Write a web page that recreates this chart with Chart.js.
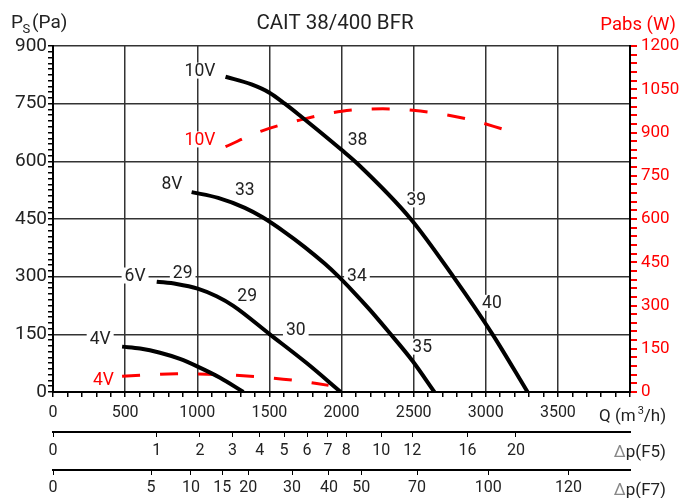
<!DOCTYPE html>
<html>
<head>
<meta charset="utf-8">
<script src="https://cdn.jsdelivr.net/npm/chart.js@4.4.1/dist/chart.umd.min.js"></script>
<style>
html, body { margin: 0; padding: 0; background: #fff; }
canvas { display: block; }
</style>
</head>
<body>
<canvas id="fanChart" width="681" height="498"></canvas>
<script>
// static pressure curves: Q in m3/h, Ps in Pa
const q10V = [1196, 1376, 1503, 1607, 1722, 1837, 2000, 2113, 2480, 2775, 3047, 3290];
const ps10V = [820, 800, 778, 750, 716, 681, 630, 593, 450, 300, 150, 0];
const q8V = [961, 1145, 1330, 1450, 1606, 1745, 1883, 1975, 2079, 2194, 2328, 2494, 2644];
const ps8V = [520, 505, 479, 455, 416, 377, 334, 302, 262, 215, 156, 80, 0];
const q6V = [719, 857, 1003, 1134, 1250, 1503, 1756, 1995];
const ps6V = [287, 281, 269, 249, 224, 150, 76, 0];
const q4V = [479, 604, 742, 880, 1003, 1158, 1320];
const ps4V = [118, 113, 102, 86, 66, 37, 0];

// absorbed power curves: Q in m3/h, Pabs in W
const qPow10V = [1196, 1445, 1710, 2003, 2287, 2494, 2863, 3151];
const pow10V = [851, 905, 943, 974, 982, 977, 948, 907];
const qPow4V = [479, 857, 1134, 1411, 1664, 1910];
const pow4V = [55, 63, 61, 53, 41, 23];

// filter pressure drop scales, Q where each value sits
const f5Values = [0, 1, 2, 3, 4, 5, 6, 7, 8, 10, 12, 16, 20];
const f5Q = [0, 719, 1019, 1245, 1434, 1602, 1761, 1906, 2033, 2275, 2490, 2874, 3209];
const f7Values = [0, 5, 10, 15, 20, 30, 40, 50, 70, 100, 120];
const f7Q = [0, 680, 956, 1173, 1353, 1657, 1913, 2137, 2524, 3017, 3573];

const RED = '#ff0000';
const TEXT = '#222';
const GRID = '#333';
const FONT = 'Roboto, "Noto Sans", sans-serif';

function toPoints(xs, ys) {
    return xs.map((x, i) => ({ x: x, y: ys[i] }));
}

// labels placed on the curves, in data units
const curveLabels = [
    { text: '10V', q: 1019, v: 836, axis: 'y', color: TEXT },
    { text: '10V', q: 1019, v: 876, axis: 'y2', color: RED },
    { text: '8V', q: 825, v: 542, axis: 'y', color: TEXT },
    { text: '33', q: 1330, v: 527, axis: 'y', color: TEXT },
    { text: '38', q: 2111, v: 657, axis: 'y', color: TEXT },
    { text: '39', q: 2519, v: 501, axis: 'y', color: TEXT },
    { text: '6V', q: 569, v: 303, axis: 'y', color: TEXT },
    { text: '29', q: 899, v: 310, axis: 'y', color: TEXT },
    { text: '29', q: 1346, v: 251, axis: 'y', color: TEXT },
    { text: '30', q: 1683, v: 161, axis: 'y', color: TEXT },
    { text: '34', q: 2107, v: 303, axis: 'y', color: TEXT },
    { text: '35', q: 2559, v: 118, axis: 'y', color: TEXT },
    { text: '40', q: 3043, v: 232, axis: 'y', color: TEXT },
    { text: '4V', q: 327, v: 138, axis: 'y', color: TEXT },
    { text: '4V', q: 350, v: 43, axis: 'y2', color: RED }
];

const textPlugin = {
    id: 'chartText',
    beforeDatasetsDraw(chart) {
        const { ctx, scales } = chart;
        ctx.save();
        ctx.font = '17.5px ' + FONT;
        ctx.textAlign = 'center';
        ctx.textBaseline = 'middle';
        curveLabels.forEach(l => {
            const x = scales.x.getPixelForValue(l.q);
            const y = scales[l.axis].getPixelForValue(l.v);
            const w = ctx.measureText(l.text).width + 6;
            ctx.fillStyle = '#fff';
            ctx.fillRect(x - w / 2, y - 8, w, 16);
            ctx.fillStyle = l.color;
            ctx.fillText(l.text, x, y + 1);
        });
        ctx.restore();
    },
    afterDraw(chart) {
        const ctx = chart.ctx;
        ctx.save();
        ctx.textBaseline = 'alphabetic';

        ctx.fillStyle = TEXT;
        ctx.font = '20.5px ' + FONT;
        ctx.textAlign = 'center';
        ctx.fillText('CAIT 38/400 BFR', 335, 29);

        ctx.textAlign = 'left';
        ctx.font = '19px ' + FONT;
        ctx.fillText('P', 11, 28);
        ctx.font = '13px ' + FONT;
        ctx.fillText('S', 22.5, 33);
        ctx.font = '19px ' + FONT;
        ctx.fillText('(Pa)', 32, 28);

        ctx.fillStyle = RED;
        ctx.textAlign = 'right';
        ctx.font = '18.5px ' + FONT;
        ctx.fillText('Pabs (W)', 676, 30);

        // Q (m3/h)
        ctx.fillStyle = TEXT;
        ctx.textAlign = 'left';
        ctx.font = '17px ' + FONT;
        let x = 599;
        ctx.fillText('Q (m', x, 421);
        x += ctx.measureText('Q (m').width + 2;
        ctx.font = '11px ' + FONT;
        ctx.fillText('3', x, 414);
        x += ctx.measureText('3').width;
        ctx.font = '17px ' + FONT;
        ctx.fillText('/h)', x, 421);

        // filter axis names
        [['(F5)', 457], ['(F7)', 495]].forEach(([name, y]) => {
            ctx.font = '17px ' + FONT;
            ctx.fillStyle = TEXT;
            ctx.textAlign = 'right';
            ctx.fillText('p' + name, 666, y);
            const w = ctx.measureText('p' + name).width;
            ctx.fillStyle = '#888';
            ctx.fillText('\u0394', 666 - w, y);
        });
        ctx.restore();
    }
};

function fixWidth(w) {
    return scale => { scale.width = w; };
}
function fixHeight(h) {
    return scale => { scale.height = h; };
}

const ctx = document.getElementById('fanChart').getContext('2d');

new Chart(ctx, {
    type: 'line',
    data: {
        datasets: [
            { data: toPoints(q10V, ps10V), yAxisID: 'y', borderColor: '#000', borderWidth: 4 },
            { data: toPoints(q8V, ps8V), yAxisID: 'y', borderColor: '#000', borderWidth: 4 },
            { data: toPoints(q6V, ps6V), yAxisID: 'y', borderColor: '#000', borderWidth: 4 },
            { data: toPoints(q4V, ps4V), yAxisID: 'y', borderColor: '#000', borderWidth: 4 },
            { data: toPoints(qPow10V, pow10V), yAxisID: 'y2', borderColor: RED, borderWidth: 3, borderDash: [18, 20] },
            { data: toPoints(qPow4V, pow4V), yAxisID: 'y2', borderColor: RED, borderWidth: 3, borderDash: [18, 20] }
        ]
    },
    options: {
        responsive: false,
        animation: false,
        events: [],
        elements: {
            point: { radius: 0 },
            line: { cubicInterpolationMode: 'monotone', fill: false }
        },
        layout: { padding: { top: 46, left: 0, right: 0, bottom: 0 } },
        plugins: {
            legend: { display: false },
            tooltip: { enabled: false }
        },
        scales: {
            x: {
                type: 'linear',
                position: 'bottom',
                weight: 0,
                min: 0,
                max: 4000,
                afterFit: fixHeight(40),
                border: { color: '#000', width: 2 },
                grid: {
                    color: c => (c.tick && c.tick.value % 500 === 0) ? GRID : 'rgba(0,0,0,0)',
                    tickColor: '#000',
                    lineWidth: 1.5,
                    tickLength: 5
                },
                ticks: {
                    stepSize: 100,
                    autoSkip: false,
                    maxRotation: 0,
                    padding: 6,
                    color: TEXT,
                    font: { family: FONT, size: 16 },
                    callback: v => (v % 500 === 0 && v < 4000) ? v : ''
                }
            },
            x2: {
                type: 'linear',
                position: 'bottom',
                weight: 1,
                min: 0,
                max: 4000,
                afterFit: fixHeight(38),
                afterBuildTicks: scale => { scale.ticks = f5Q.map(v => ({ value: v })); },
                border: { color: '#000', width: 2 },
                grid: { drawOnChartArea: false, tickColor: '#000', tickLength: 5 },
                ticks: {
                    autoSkip: false,
                    maxRotation: 0,
                    padding: 4,
                    color: TEXT,
                    font: { family: FONT, size: 16 },
                    callback: (v, i) => f5Values[i]
                }
            },
            x3: {
                type: 'linear',
                position: 'bottom',
                weight: 2,
                min: 0,
                max: 4000,
                afterFit: fixHeight(28),
                afterBuildTicks: scale => { scale.ticks = f7Q.map(v => ({ value: v })); },
                border: { color: '#000', width: 2 },
                grid: { drawOnChartArea: false, tickColor: '#000', tickLength: 5 },
                ticks: {
                    autoSkip: false,
                    maxRotation: 0,
                    padding: 3,
                    color: TEXT,
                    font: { family: FONT, size: 16 },
                    callback: (v, i) => f7Values[i]
                }
            },
            y: {
                type: 'linear',
                position: 'left',
                min: 0,
                max: 900,
                afterFit: fixWidth(53),
                border: { color: '#000', width: 2 },
                grid: {
                    color: c => (c.tick && c.tick.value % 150 === 0) ? GRID : 'rgba(0,0,0,0)',
                    tickColor: '#000',
                    lineWidth: 1.5,
                    tickLength: 5
                },
                ticks: {
                    stepSize: 15,
                    autoSkip: false,
                    padding: 1,
                    color: TEXT,
                    font: { family: FONT, size: 19 },
                    callback: v => (v % 150 === 0) ? v : ''
                }
            },
            y2: {
                type: 'linear',
                position: 'right',
                min: 0,
                max: 1200,
                afterFit: fixWidth(51),
                border: { color: '#000', width: 2 },
                grid: { drawOnChartArea: false, tickColor: RED, lineWidth: 2, tickLength: 7 },
                ticks: {
                    stepSize: 30,
                    autoSkip: false,
                    padding: 4,
                    color: RED,
                    font: { family: FONT, size: 17 },
                    callback: v => (v % 150 === 0) ? v : ''
                }
            }
        }
    },
    plugins: [textPlugin]
});
</script>
</body>
</html>
